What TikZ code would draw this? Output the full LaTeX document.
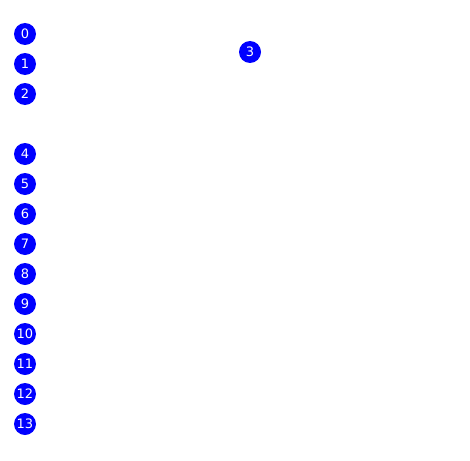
\documentclass[tikz,border=0pt]{standalone}
\usepackage{fontspec}
\setmainfont{DejaVu Sans}
\usetikzlibrary{positioning}

\tikzset{
  dot/.style={circle, fill=blue, draw=none, minimum size=22pt, inner sep=0pt,
    text=white, font=\fontsize{13}{13}\selectfont}
}

\begin{document}
\begin{tikzpicture}[x=1pt, y=1pt, node distance=30pt, on grid]

\useasboundingbox (0,0) rectangle (470,-460);

% Define nodes
\node[dot] at (25,-34) (n0) {0};
\node[dot, below=of n0] (n1) {1};
\node[dot, below=of n1] (n2) {2};
\node[dot] at (250,-52) (n3) {3};
\node[dot, below=60pt of n2] (n4) {4};
\node[dot, below=of n4] (n5) {5};
\node[dot, below=of n5] (n6) {6};
\node[dot, below=of n6] (n7) {7};
\node[dot, below=of n7] (n8) {8};
\node[dot, below=of n8] (n9) {9};
\node[dot, below=of n9] (n10) {10};
\node[dot, below=of n10] (n11) {11};
\node[dot, below=of n11] (n12) {12};
\node[dot, below=of n12] (n13) {13};

\end{tikzpicture}
\end{document}
